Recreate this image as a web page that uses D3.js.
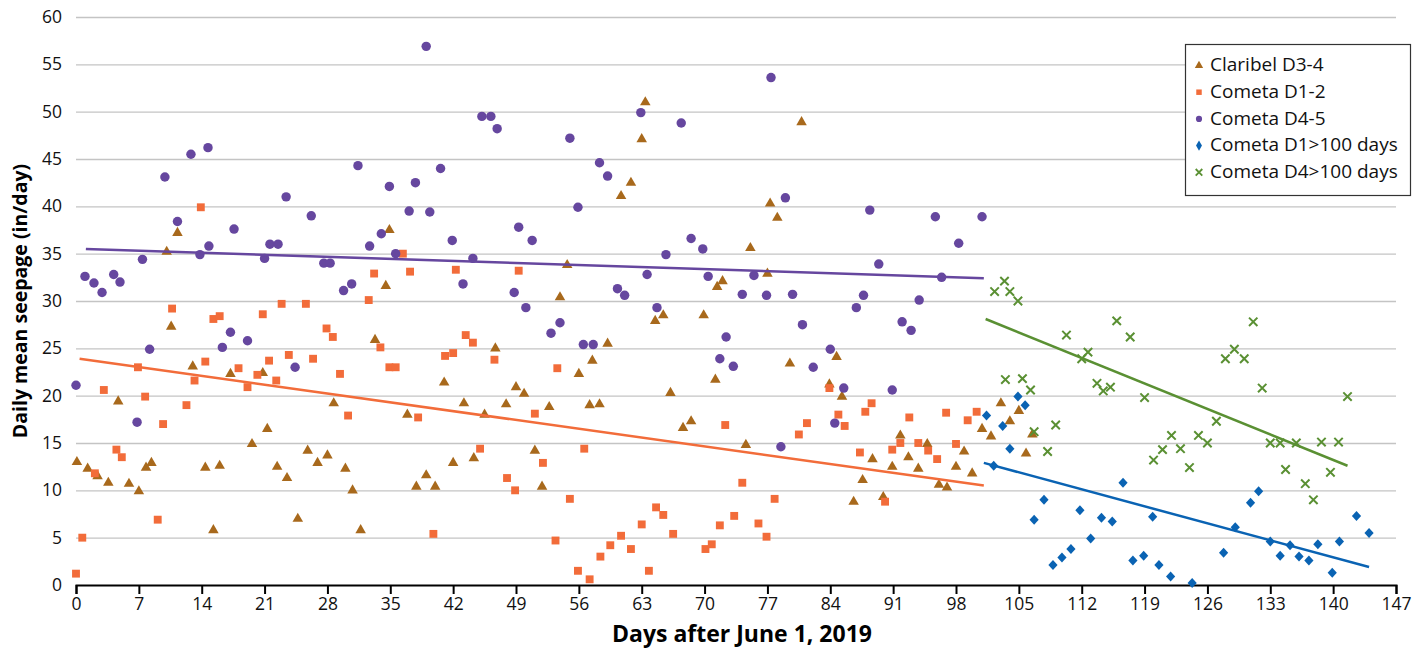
<!DOCTYPE html>
<html>
<head>
<meta charset="utf-8">
<script src="https://cdn.jsdelivr.net/npm/d3@7.9.0/dist/d3.min.js"></script>
<style>
  body { margin: 0; background: #fff; }
  svg { display: block; font-family: "Open Sans", "Noto Sans", sans-serif; }
</style>
</head>
<body>
<div id="chart"></div>
<script>
// Claribel D3-4  [day, in/day]
const claribel = [
  [0.1,13.1],[1.3,12.4],[2.4,11.6],[3.6,10.9],[4.7,19.5],[5.9,10.8],[7.0,10.0],[7.8,12.5],[8.4,13.0],
  [10.1,35.3],[10.6,27.4],[11.3,37.3],[13.0,23.2],[14.4,12.5],[15.3,5.9],[16.0,12.7],[17.2,22.4],
  [19.6,15.0],[20.8,22.5],[21.3,16.6],[22.4,12.6],[23.5,11.4],[24.7,7.1],[25.8,14.3],[26.9,13.0],
  [28.0,13.8],[28.7,19.3],[30.0,12.4],[30.8,10.1],[31.7,5.9],[33.3,26.0],[34.5,31.7],[34.9,37.6],
  [36.9,18.1],[37.9,10.5],[39.0,11.7],[40.0,10.5],[41.0,21.5],[42.0,13.0],[43.2,19.3],[44.3,13.5],
  [45.5,18.1],[46.7,25.1],[47.9,19.2],[49.0,21.0],[49.9,20.3],[51.1,14.3],[51.9,10.5],[52.7,18.9],
  [53.9,30.5],[54.7,33.9],[56.0,22.4],[57.2,19.1],[57.5,23.8],[58.3,19.2],[59.2,25.6],[60.7,41.2],
  [61.8,42.6],[63.0,47.2],[63.4,51.1],[64.5,28.0],[65.4,28.6],[66.2,20.4],[67.6,16.7],[68.5,17.4],
  [69.9,28.6],[71.2,21.8],[71.4,31.6],[72.0,32.2],[74.6,14.9],[75.1,35.7],[77.0,33.0],[77.3,40.4],
  [78.1,38.9],[79.5,23.5],[80.8,49.0],[83.9,21.3],[84.7,24.2],[85.3,20.0],[86.6,8.9],[87.6,11.2],
  [88.7,13.4],[89.9,9.4],[90.9,12.6],[91.8,15.9],[92.7,13.6],[93.8,12.4],[94.8,15.0],[96.1,10.7],
  [97.0,10.4],[98.0,12.6],[98.9,14.2],[99.8,11.9],[100.9,16.6],[101.9,15.8],[103.0,19.3],[104.0,17.4],
  [105.0,18.5],[105.8,14.0],[106.5,16.0]
];

// Cometa D1-2
const cometaD12 = [
  [0,1.2],[0.7,5.0],[2.1,11.8],[3.1,20.6],[4.5,14.3],[5.1,13.5],[6.9,23.0],[7.7,19.9],[9.1,6.9],
  [9.7,17.0],[10.7,29.2],[12.3,19.0],[13.2,21.6],[13.9,39.9],[14.4,23.6],[15.3,28.1],[16.0,28.4],
  [18.1,22.9],[19.1,20.9],[20.2,22.2],[20.8,28.6],[21.5,23.7],[22.3,21.6],[22.9,29.7],[23.7,24.3],
  [25.6,29.7],[26.4,23.9],[27.9,27.1],[28.6,26.2],[29.4,22.3],[30.3,17.9],[32.6,30.1],[33.2,32.9],
  [33.9,25.1],[34.9,23.0],[35.6,23.0],[36.4,35.0],[37.2,33.1],[38.1,17.7],[39.8,5.4],[41.1,24.2],
  [42.0,24.5],[42.3,33.3],[43.4,26.4],[44.2,25.6],[45.0,14.4],[46.6,23.8],[48.0,11.3],[48.9,10.0],
  [49.3,33.2],[51.1,18.1],[52.0,12.9],[53.4,4.7],[53.6,22.9],[55.0,9.1],[55.9,1.5],[56.6,14.4],
  [57.2,0.6],[58.4,3.0],[59.5,4.2],[60.7,5.2],[61.8,3.8],[63.0,6.4],[63.8,1.5],[64.6,8.2],[65.4,7.4],
  [66.5,5.4],[70.1,3.8],[70.8,4.3],[71.7,6.3],[72.3,16.9],[73.3,7.3],[74.2,10.8],[76.0,6.5],[76.9,5.1],
  [77.8,9.1],[80.5,15.9],[81.4,17.1],[83.9,20.8],[84.9,18.0],[85.6,16.8],[87.3,14.0],[87.9,18.3],
  [88.6,19.2],[90.1,8.8],[90.9,14.3],[91.8,15.0],[92.8,17.7],[93.8,15.0],[94.9,14.2],[95.9,13.3],
  [96.9,18.2],[98.0,14.9],[99.3,17.4],[100.3,18.3]
];

// Cometa D4-5
const cometaD45 = [
  [0,21.1],[1.0,32.6],[2.0,31.9],[2.9,30.9],[4.2,32.8],[4.9,32.0],[6.8,17.2],[7.4,34.4],[8.2,24.9],
  [9.9,43.1],[11.3,38.4],[12.8,45.5],[13.8,34.9],[14.7,46.2],[14.8,35.8],[16.3,25.1],[17.2,26.7],
  [17.6,37.6],[19.1,25.8],[21.0,34.5],[21.6,36.0],[22.5,36.0],[23.4,41.0],[24.4,23.0],[26.2,39.0],
  [27.6,34.0],[28.3,34.0],[29.8,31.1],[30.7,31.8],[31.4,44.3],[32.7,35.8],[34.0,37.1],[34.9,42.1],
  [35.6,35.0],[37.1,39.5],[37.8,42.5],[39.0,56.9],[39.4,39.4],[40.6,44.0],[41.9,36.4],[43.1,31.8],
  [44.2,34.5],[45.2,49.5],[46.2,49.5],[46.9,48.2],[48.8,30.9],[49.3,37.8],[50.1,29.3],[50.8,36.4],
  [52.9,26.6],[53.9,27.7],[55.0,47.2],[55.9,39.9],[56.5,25.4],[57.6,25.4],[58.3,44.6],[59.2,43.2],
  [60.3,31.3],[61.1,30.6],[62.9,49.9],[63.6,32.8],[64.7,29.3],[65.7,34.9],[67.4,48.8],[68.5,36.6],
  [69.8,35.5],[70.4,32.6],[71.7,23.9],[72.4,26.2],[73.2,23.1],[74.2,30.7],[75.5,32.7],[76.9,30.6],
  [77.4,53.6],[78.5,14.6],[79.0,40.9],[79.8,30.7],[80.9,27.5],[82.1,23.0],[84.0,24.9],[84.5,17.1],
  [85.5,20.8],[86.9,29.3],[87.7,30.6],[88.4,39.6],[89.4,33.9],[90.9,20.6],[92.0,27.8],[93.0,26.9],
  [93.9,30.1],[95.7,38.9],[96.4,32.5],[98.3,36.1],[100.9,38.9]
];

// Cometa D1 > 100 days
const cometaD1late = [
  [101.4,17.9],[102.2,12.6],[103.2,16.8],[104.0,14.4],[104.9,19.9],[105.7,19.0],[106.7,6.9],[107.8,9.0],
  [108.8,2.1],[109.8,2.9],[110.8,3.8],[111.8,7.9],[113.0,4.9],[114.2,7.1],[115.4,6.7],[116.6,10.8],
  [117.7,2.6],[118.9,3.1],[119.9,7.2],[120.6,2.1],[121.9,0.9],[124.3,0.2],[127.8,3.4],[129.1,6.1],
  [130.8,8.7],[131.7,9.9],[133.0,4.6],[134.1,3.1],[135.2,4.2],[136.2,3.0],[137.3,2.6],[138.3,4.3],
  [139.9,1.3],[140.7,4.6],[142.6,7.3],[144.0,5.5]
];

// Cometa D4 > 100 days
const cometaD4late = [
  [102.3,31.0],[103.4,32.1],[103.5,21.7],[104.0,31.0],[104.9,30.0],[105.4,21.8],[106.3,20.6],[106.7,16.2],
  [108.2,14.1],[109.1,16.9],[110.3,26.4],[112.0,23.9],[112.7,24.6],[113.7,21.3],[114.4,20.5],[115.2,20.9],
  [115.9,27.9],[117.4,26.2],[119.0,19.8],[120.0,13.2],[121.0,14.3],[122.0,15.8],[123.0,14.4],[124.0,12.4],
  [125.0,15.8],[126.0,15.0],[127.0,17.3],[128.0,23.9],[129.0,24.9],[130.1,23.9],[131.1,27.8],[132.1,20.8],
  [133.0,15.0],[134.1,15.0],[134.7,12.2],[135.9,15.0],[136.9,10.7],[137.8,9.0],[138.7,15.1],[139.7,11.9],
  [140.6,15.1],[141.6,19.9]
];

// linear trend lines (start, end)
const trendD45 = [[1.1,35.5],[101.1,32.4]];
const trendD12 = [[0.4,23.9],[101.1,10.5]];
const trendD4late = [[101.3,28.1],[141.6,12.6]];
const trendD1late = [[101.1,12.9],[144.0,1.9]];

const xTicks = d3.range(0, 148, 7);
const yTicks = d3.range(0, 61, 5);

const width = 1422;
const height = 650;
const margin = { top: 17, right: 26, bottom: 65, left: 76 };

const svg = d3.select('#chart')
  .append('svg')
  .attr('width', width)
  .attr('height', height);

const x = d3.scaleLinear().domain([0, 147]).range([margin.left, width - margin.right]);
const y = d3.scaleLinear().domain([0, 60]).range([height - margin.bottom, margin.top]);

// gridlines
svg.append('g')
  .attr('transform', `translate(${margin.left},0)`)
  .call(d3.axisLeft(y).tickValues(yTicks.slice(1)).tickFormat('').tickSize(-(x(147) - margin.left)))
  .call(g => g.select('.domain').remove())
  .call(g => g.selectAll('line').attr('stroke', '#c4c4c4').attr('stroke-width', 1.3));

// y tick labels
svg.append('g')
  .attr('transform', `translate(${margin.left},0)`)
  .call(d3.axisLeft(y).tickValues(yTicks).tickSize(0).tickPadding(14))
  .call(g => g.select('.domain').remove())
  .call(g => g.selectAll('text').attr('font-size', 17.5).attr('fill', '#111').attr('font-family', '"Open Sans", sans-serif'));

// x axis
svg.append('g')
  .attr('transform', `translate(0,${y(0)})`)
  .call(d3.axisBottom(x).tickValues(xTicks).tickSize(9).tickPadding(4))
  .call(g => g.select('.domain').attr('stroke', '#000').attr('stroke-width', 2))
  .call(g => g.selectAll('line').attr('stroke', '#000').attr('stroke-width', 2))
  .call(g => g.selectAll('text').attr('font-size', 17.5).attr('fill', '#111').attr('font-family', '"Open Sans", sans-serif'));

// axis titles
svg.append('text')
  .attr('x', 742)
  .attr('y', 642)
  .attr('text-anchor', 'middle')
  .attr('font-size', 23)
  .attr('font-weight', 'bold')
  .text('Days after June 1, 2019');

svg.append('text')
  .attr('transform', `translate(27,${(y(0) + y(60)) / 2}) rotate(-90)`)
  .attr('text-anchor', 'middle')
  .attr('font-size', 19.5)
  .attr('font-weight', 'bold')
  .text('Daily mean seepage (in/day)');

const lineGen = d3.line().x(d => x(d[0])).y(d => y(d[1]));

const markers = {
  triangle: d3.symbol().type(d3.symbolTriangle).size(48)(),
  square: d3.symbol().type(d3.symbolSquare).size(62)(),
  circle: d3.symbol().type(d3.symbolCircle).size(70)(),
  diamond: 'M0,-5L4.6,0L0,5L-4.6,0Z',
  cross: 'M-4.2,-4.2L4.2,4.2M-4.2,4.2L4.2,-4.2'
};

const series = [
  { name: 'Claribel D3-4', data: claribel, color: '#a8691c', shape: 'triangle' },
  { name: 'Cometa D1-2', data: cometaD12, color: '#f26c3a', shape: 'square', trend: trendD12 },
  { name: 'Cometa D4-5', data: cometaD45, color: '#66479f', shape: 'circle', trend: trendD45 },
  { name: 'Cometa D1>100 days', data: cometaD1late, color: '#0a63b3', shape: 'diamond', trend: trendD1late },
  { name: 'Cometa D4>100 days', data: cometaD4late, color: '#5a9033', shape: 'cross', trend: trendD4late }
];

function drawMarks(g, s, pts, dy) {
  g.selectAll('path')
    .data(pts)
    .join('path')
    .attr('transform', d => `translate(${x(d[0])},${y(d[1]) + dy})`)
    .attr('d', markers[s.shape])
    .attr('fill', s.shape === 'cross' ? 'none' : s.color)
    .attr('stroke', s.shape === 'cross' ? s.color : 'none')
    .attr('stroke-width', 2);
}

series.forEach(s => {
  const g = svg.append('g');
  drawMarks(g, s, s.data, s.shape === 'triangle' ? 1 : 0);
});

series.filter(s => s.trend).forEach(s => {
  svg.append('path')
    .datum(s.trend)
    .attr('d', lineGen)
    .attr('fill', 'none')
    .attr('stroke', s.color)
    .attr('stroke-width', 2.5);
});

// legend
const legend = svg.append('g').attr('transform', 'translate(1185,44)');
legend.append('rect')
  .attr('x', 0.5).attr('y', 0.5)
  .attr('width', 225).attr('height', 151)
  .attr('fill', '#fff')
  .attr('stroke', '#333')
  .attr('stroke-width', 1.2);

series.forEach((s, i) => {
  const row = legend.append('g').attr('transform', `translate(0,${20.5 + i * 26.7})`);
  row.append('path')
    .attr('transform', 'translate(14,1)')
    .attr('d', s.shape === 'cross' ? 'M-3.3,-3.3L3.3,3.3M-3.3,3.3L3.3,-3.3'
      : d3.symbol().type({ triangle: d3.symbolTriangle, square: d3.symbolSquare, circle: d3.symbolCircle, diamond: d3.symbolDiamond }[s.shape]).size(30)())
    .attr('fill', s.shape === 'cross' ? 'none' : s.color)
    .attr('stroke', s.shape === 'cross' ? s.color : 'none')
    .attr('stroke-width', 1.8);
  row.append('text')
    .attr('x', 25)
    .attr('y', 0)
    .attr('dy', '0.35em')
    .attr('font-size', 19)
    .attr('fill', '#111')
    .text(s.name);
});
</script>
</body>
</html>
